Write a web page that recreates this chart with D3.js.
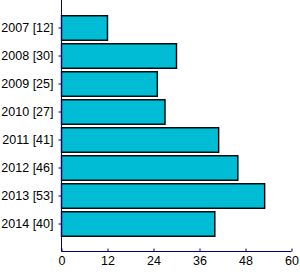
<!DOCTYPE html>
<html><head><meta charset="utf-8">
<script src="https://cdn.jsdelivr.net/npm/d3@7"></script>
<style>body{margin:0;background:#fff}svg{display:block}</style>
</head><body>
<svg id="c" width="300" height="276"></svg>
<script>
const years = ["2007","2008","2009","2010","2011","2012","2013","2014"];
const values = [12,30,25,27,41,46,53,40];
const xTicks = [0,12,24,36,48,60];

(function(){
const svg = d3.select("#c");
const mL = 61.5, mR = 291.5, mT = 0, mB = 251.5;
const x = d3.scaleLinear().domain([0,60]).range([mL,mR]);
const y = d3.scaleBand().domain(years).range([14,238]).paddingInner(0.125).paddingOuter(0.0625);
const font = "Liberation Sans, Arial, sans-serif";

svg.selectAll("rect.bar").data(years).join("rect")
  .attr("class","bar")
  .attr("x", x(0))
  .attr("y", d => y(d))
  .attr("width", (d,i) => x(values[i]) - x(0))
  .attr("height", y.bandwidth())
  .attr("fill", "#00BCD4")
  .attr("stroke", "#000")
  .attr("stroke-width", 1.4);

const gx = svg.append("g").attr("transform", `translate(0,${mB})`)
  .call(d3.axisBottom(x).tickValues(xTicks).tickSizeInner(-3).tickSizeOuter(0).tickPadding(8));
gx.select(".domain").attr("stroke","#000080").attr("d", `M${mL},0H${mR}`);
gx.selectAll(".tick line").attr("stroke","#000080");
gx.selectAll(".tick text").attr("fill","#000").style("font-family",font).style("font-size","12.5px").attr("dy","0.71em").attr("y",5);

const gy = svg.append("g").attr("transform", `translate(${mL},0)`)
  .call(d3.axisLeft(y).tickSizeInner(3).tickSizeOuter(0).tickPadding(5)
    .tickFormat((d,i) => `${d} [${values[i]}]`));
gy.select(".domain").attr("stroke","#000080").attr("d", `M0,${mT}V${mB}`);
gy.selectAll(".tick line").attr("stroke","#000080");
gy.selectAll(".tick text").attr("fill","#000").style("font-family",font).style("font-size","12.5px");
})();
</script>
</body></html>
